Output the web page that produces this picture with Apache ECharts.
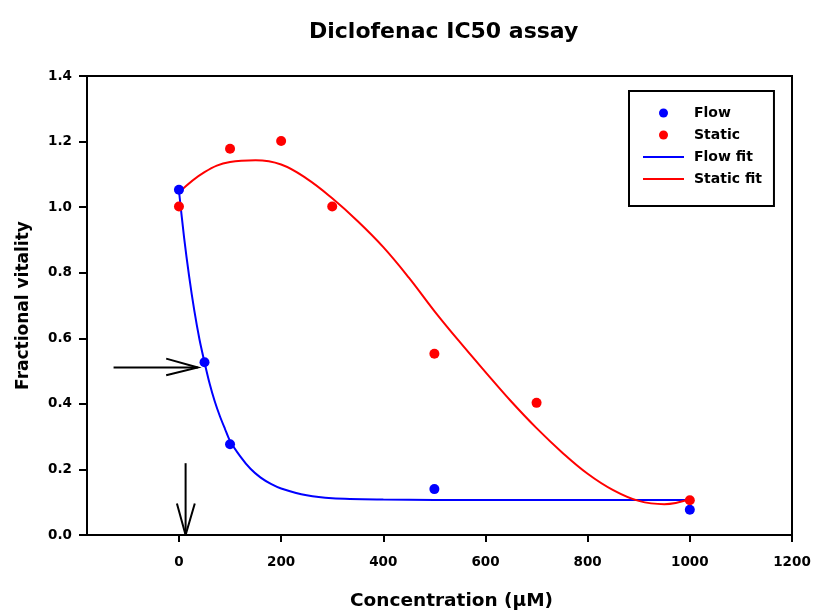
<!DOCTYPE html>
<html>
<head>
<meta charset="utf-8">
<script src="https://cdn.jsdelivr.net/npm/echarts@6/dist/echarts.min.js"></script>
<style>
  html, body { margin: 0; padding: 0; background: #fff; }
  #chart { width: 813px; height: 614px; }
</style>
</head>
<body>
<div id="chart"></div>
<script>
// measured points
const flowX = [0, 50, 100, 500, 1000]
const flowY = [1.053, 0.527, 0.277, 0.140, 0.077]
const staticX = [0, 100, 200, 300, 500, 700, 1000]
const staticY = [1.002, 1.178, 1.202, 1.002, 0.553, 0.403, 0.106]

// fitted curves
const flowFitX = [0, 10, 20, 30, 40, 50, 60, 70, 80, 90, 100, 120, 140, 160, 180, 200, 250, 300, 400, 500, 600, 700, 800, 900, 1000]
const flowFitY = [1.05, 0.908, 0.788, 0.685, 0.598, 0.527, 0.462, 0.408, 0.363, 0.324, 0.287, 0.240, 0.202, 0.175, 0.156, 0.142, 0.121, 0.112, 0.108, 0.107, 0.107, 0.107, 0.107, 0.107, 0.107]
const staticFitX = [0, 50, 100, 150, 200, 250, 300, 350, 400, 450, 500, 550, 600, 650, 700, 750, 800, 850, 900, 950, 1000]
const staticFitY = [1.045, 1.107, 1.138, 1.143, 1.130, 1.087, 1.027, 0.957, 0.878, 0.785, 0.683, 0.588, 0.497, 0.408, 0.326, 0.252, 0.187, 0.137, 0.104, 0.094, 0.110]

const xTicks = [0, 200, 400, 600, 800, 1000, 1200]

// annotation arrows (data units)
const hArrowShaft = [[-128, 0.511], [37, 0.511]]
const hArrowHead = [[-25, 0.538], [37, 0.511], [-25, 0.487]]
const vArrowShaft = [[13, 0.219], [13, 0]]
const vArrowHead = [[-4, 0.096], [13, 0], [31, 0.096]]

const zip = (xs, ys) => xs.map((x, i) => [x, ys[i]])
const font = 'DejaVu Sans'

const chart = echarts.init(document.getElementById('chart'))

chart.setOption({
  animation: false,
  textStyle: {fontFamily: font, color: '#000'},
  title: {
    text: 'Diclofenac IC50 assay',
    left: 304,
    top: 16,
    textStyle: {fontFamily: font, fontSize: 22, fontWeight: 'bold', color: '#000'}
  },
  legend: {
    data: [
      'Flow',
      'Static',
      {name: 'Flow fit', itemStyle: {opacity: 0}},
      {name: 'Static fit', itemStyle: {opacity: 0}}
    ],
    orient: 'vertical',
    left: 629,
    top: 91,
    padding: [15, 12, 20, 13],
    itemWidth: 41,
    itemHeight: 9,
    itemGap: 8,
    borderColor: '#000',
    borderWidth: 2,
    textStyle: {fontFamily: font, fontSize: 14, fontWeight: 'bold', color: '#000', padding: [0, 0, 0, 5]}
  },
  grid: {
    left: 87,
    right: 21,
    top: 76,
    bottom: 79,
    outerBoundsMode: 'none',
    show: true,
    borderColor: '#000',
    borderWidth: 2
  },
  xAxis: {
    type: 'value',
    min: -180,
    max: 1200,
    name: 'Concentration (\u03BCM)',
    nameLocation: 'middle',
    nameGap: 57,
    nameTextStyle: {fontFamily: font, fontSize: 18.5, fontWeight: 'bold', color: '#000', padding: [0, 0, 0, 24]},
    axisLine: {onZero: false, lineStyle: {color: '#000', width: 2}},
    axisTick: {customValues: xTicks, length: 7, lineStyle: {color: '#000', width: 2}},
    axisLabel: {customValues: xTicks, margin: 20, fontFamily: font, fontSize: 13.5, fontWeight: 'bold', color: '#000',
      formatter: v => String(v)},
    splitLine: {show: false}
  },
  yAxis: {
    type: 'value',
    min: 0,
    max: 1.4,
    interval: 0.2,
    name: 'Fractional vitality',
    nameLocation: 'middle',
    nameGap: 49,
    nameTextStyle: {fontFamily: font, fontSize: 17, fontWeight: 'bold', color: '#000', padding: [0, 0, 6, 0]},
    axisLine: {onZero: false, lineStyle: {color: '#000', width: 2}},
    axisTick: {length: 8, lineStyle: {color: '#000', width: 2}},
    axisLabel: {margin: 15, fontFamily: font, fontSize: 13.5, fontWeight: 'bold', color: '#000',
      formatter: v => v.toFixed(1)},
    splitLine: {show: false}
  },
  series: [
    {
      name: 'Flow fit',
      type: 'line',
      data: zip(flowFitX, flowFitY),
      smooth: 0.3,
      symbol: 'none',
      lineStyle: {color: '#0000ff', width: 2},
      itemStyle: {color: '#0000ff'},
      z: 3
    },
    {
      name: 'Static fit',
      type: 'line',
      data: zip(staticFitX, staticFitY),
      smooth: 0.4,
      symbol: 'none',
      lineStyle: {color: '#ff0000', width: 2},
      itemStyle: {color: '#ff0000'},
      z: 3
    },
    {
      name: 'Flow',
      type: 'scatter',
      data: zip(flowX, flowY),
      symbol: 'circle',
      symbolSize: 10,
      itemStyle: {color: '#0000ff', opacity: 1},
      z: 4
    },
    {
      name: 'Static',
      type: 'scatter',
      data: zip(staticX, staticY),
      symbol: 'circle',
      symbolSize: 10,
      itemStyle: {color: '#ff0000', opacity: 1},
      z: 4
    },
    {
      name: 'arrows',
      type: 'lines',
      coordinateSystem: 'cartesian2d',
      polyline: true,
      silent: true,
      lineStyle: {color: '#000', width: 2, opacity: 1},
      data: [
        {coords: hArrowShaft},
        {coords: hArrowHead},
        {coords: vArrowShaft},
        {coords: vArrowHead}
      ],
      z: 5
    }
  ]
})
</script>
</body>
</html>
